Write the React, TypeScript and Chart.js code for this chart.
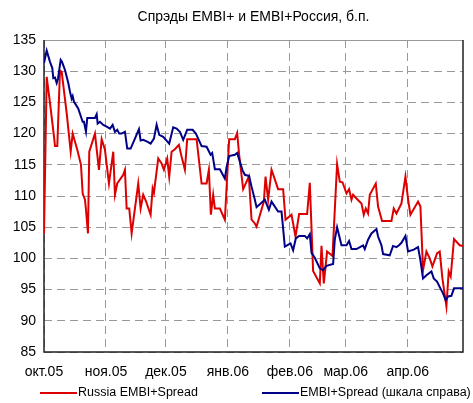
import React, { useEffect, useRef } from "react";
import { Chart, registerables } from "chart.js";

Chart.register(...registerables);

const titleText = "Спрэды EMBI+ и EMBI+Россия, б.п.";
const monthDays = [0, 31, 61, 92, 123, 151, 182];
const monthLabels = ["окт.05", "ноя.05", "дек.05", "янв.06", "фев.06", "мар.06", "апр.06"];
const lastDay = 209.65;
const seriesNames = ["Russia EMBI+Spread", "EMBI+Spread (шкала справа)"];

// [day since 1 Oct 2005, spread]
const russiaSpread: [number, number][] = [
  [0, 104], [1.35, 129.1], [3, 124.9], [5, 119.5], [5.5, 118], [6.65, 118], [8, 130.1], [8.85, 129.9],
  [11.35, 123.3], [13.35, 117.1], [14.35, 120], [16.65, 117.4], [18.5, 115], [19.35, 110.4], [20.5, 109.4],
  [21, 107.8], [22, 104], [22.65, 117.1], [25.5, 120], [27.5, 114.2], [28.85, 119.1], [30.5, 117.4],
  [32.5, 112], [34.65, 117.1], [35.5, 110.2], [36.65, 112], [39.65, 113.4], [40.5, 114.2], [41.35, 108],
  [42.65, 108], [43.85, 104], [47.15, 112], [48.35, 108], [49.65, 110.2], [51, 109.2], [53.35, 107],
  [54.35, 111.2], [55, 110.5], [57.15, 116], [58.85, 115.2], [60, 114.2], [61.65, 116], [62.65, 113.1],
  [63.85, 117.1], [65.5, 117.5], [67.5, 118.2], [68.85, 116.3], [70.5, 114.2], [71.65, 119.1], [76.35, 119.1],
  [78.85, 112], [81.35, 112], [82.5, 114.2], [83.5, 107], [84.65, 110.2], [85.5, 108], [88, 108],
  [90.5, 106.2], [92.65, 119.1], [95.5, 119.1], [96.65, 120.1], [97.65, 116.6], [99.65, 111.1], [102.5, 113.1],
  [103.85, 106.2], [105.5, 105.6], [106.35, 105.1], [110, 109.1], [110.85, 113.1], [112.15, 109.4],
  [113.85, 114.2], [117.15, 111.1], [119.65, 111.1], [120.85, 106.2], [123.85, 107], [125.85, 103.5],
  [127.65, 107.1], [131.65, 107.1], [133, 112.1], [134.65, 98], [138, 96], [138.85, 102], [140, 96],
  [141.65, 101.1], [144.35, 100.4], [146.65, 115.1], [148, 112.3], [149.35, 112.2], [151.35, 110.4],
  [152.65, 111.1], [153.85, 109.4], [154.65, 110.2], [156.35, 109.6], [158.85, 108.8], [160, 107], [161, 108],
  [162.15, 107.2], [163, 110.2], [166, 112], [167.15, 108.3], [169.15, 106], [173.85, 106], [175, 108],
  [176.35, 107.2], [178.85, 108.8], [180.85, 113.1], [182.15, 109.5], [183.35, 107], [187.15, 109.1],
  [188.35, 108.3], [189.65, 98.1], [191.35, 101.1], [193, 100], [194.35, 98.7], [196.65, 100.8], [198, 101.1],
  [199.35, 96.8], [201.35, 92.3], [202.5, 97.9], [203.5, 97.1], [205.15, 103.1], [208, 102.1], [209.65, 102],
];

const embiSpread: [number, number][] = [
  [0, 131.3], [1.35, 133.3], [3, 131.5], [4.15, 130.5], [4.65, 128.9], [5.5, 129], [6.35, 128.1], [7, 128.8],
  [8.35, 131.8], [9, 131.5], [10.5, 130.2], [12.15, 128.1], [13, 126.7], [13.85, 125.6], [14.35, 126],
  [15, 125.1], [16, 124.6], [17.15, 124], [18.5, 122.7], [19.35, 121.9], [20, 121.9], [21, 120.3],
  [21.65, 122.5], [23, 122.5], [25.5, 122.5], [26.35, 123.1], [26.85, 121.6], [28, 121.9], [29.65, 121.4],
  [31.35, 121.1], [33, 120.8], [34.35, 121.4], [35.5, 120.3], [36.65, 120.6], [37.65, 120], [38.85, 120],
  [40.5, 120.3], [41.65, 117.6], [43.35, 117.6], [45.5, 119.2], [47.5, 120.7], [48.35, 118.9], [49.65, 119],
  [51.65, 118.7], [53.35, 118.4], [55, 119.2], [56.35, 121.4], [57.65, 119.8], [59.65, 119.5], [62.65, 118.4],
  [64.65, 121], [66.35, 120.8], [68, 120.3], [69.65, 119], [71.65, 120.6], [74.35, 120.6], [76, 120],
  [78.85, 118], [81.35, 117.9], [83.35, 116.6], [84.15, 116.9], [85.5, 114.3], [88, 114.3], [90.5, 112.8],
  [91.35, 114.6], [92.65, 116.4], [95.5, 116.6], [96.65, 116.9], [99.35, 114.1], [100.5, 113.4],
  [102.65, 113.2], [103.85, 111.5], [105.5, 109.4], [106.35, 108.2], [110.5, 109.4], [112.5, 107.8],
  [113.85, 109.1], [117.15, 107.5], [118.85, 107.5], [120.5, 101.9], [123.35, 102.4], [124.65, 101.3],
  [126, 103.2], [127.65, 103.6], [130.5, 103.6], [131.65, 103.2], [133, 103.9], [133.85, 100.9],
  [135.5, 100.1], [138, 98.4], [139.65, 98.1], [141.35, 98.8], [144.65, 99.1], [145.5, 103], [146.65, 105],
  [148.85, 102.1], [151.35, 102.1], [152.65, 102.8], [153.85, 101.5], [156.35, 101.5], [159.65, 102.1],
  [160.5, 101.5], [162.15, 103], [163.85, 104], [166.35, 104.7], [167.15, 103.5], [168.85, 102.1],
  [169.65, 100.7], [173, 100.5], [174.65, 102], [176.35, 101.8], [177.65, 102.1], [178.85, 102.5],
  [180.85, 103.6], [182.15, 101.1], [185, 101.4], [187.15, 101.8], [188.35, 99.7], [189.65, 96.8],
  [191.35, 97.3], [193.85, 97.9], [195, 96.8], [196.65, 96.3], [198.35, 95.2], [199.65, 94.4], [201, 93.3],
  [202.15, 93.9], [203.85, 94], [205.15, 95.2], [209.65, 95.2],
];

const RED = "#dd0000";
const BLUE = "#000088";
const FONT = "'Liberation Sans', Arial, sans-serif";
const DASH = [8, 5];

const framePlugin = {
  id: "framePlugin",
  beforeDatasetsDraw(chart: any) {
    const { ctx, chartArea: a } = chart;
    ctx.save();
    ctx.lineWidth = 1;
    ctx.strokeStyle = "#999999";
    ctx.beginPath();
    ctx.moveTo(a.left, a.top + 0.5);
    ctx.lineTo(a.right, a.top + 0.5);
    ctx.stroke();
    ctx.strokeStyle = "#222222";
    ctx.lineWidth = 1.5;
    ctx.beginPath();
    ctx.moveTo(a.left, a.top);
    ctx.lineTo(a.left, a.bottom);
    ctx.lineTo(a.right, a.bottom);
    ctx.lineTo(a.right, a.top);
    ctx.stroke();
    ctx.restore();
  },
  afterDraw(chart: any) {
    const { ctx, chartArea: a } = chart;
    ctx.save();
    ctx.fillStyle = "#000";
    ctx.font = `14px ${FONT}`;
    ctx.textAlign = "center";
    ctx.textBaseline = "middle";
    ctx.fillText(titleText, (a.left + a.right) / 2, 17);
    const ly = 393;
    const items = [
      { x1: 40, x2: 77, color: RED, text: seriesNames[0] },
      { x1: 262, x2: 299, color: BLUE, text: seriesNames[1] },
    ];
    ctx.font = `12.5px ${FONT}`;
    ctx.textAlign = "left";
    for (const it of items) {
      ctx.strokeStyle = it.color;
      ctx.lineWidth = 2;
      ctx.beginPath();
      ctx.moveTo(it.x1, ly);
      ctx.lineTo(it.x2, ly);
      ctx.stroke();
      ctx.fillText(it.text, it.x2 + 1, ly);
    }
    ctx.restore();
  },
};

export default function App() {
  const ref = useRef<HTMLCanvasElement>(null);
  useEffect(() => {
    document.body.style.margin = "0";
    Chart.defaults.font.family = FONT;
    const chart = new Chart(ref.current!, {
      type: "line",
      data: {
        datasets: [
          {
            label: seriesNames[0],
            data: russiaSpread.map(([x, y]) => ({ x, y })),
            borderColor: RED,
            borderWidth: 2,
            pointRadius: 0,
            tension: 0,
            order: 1,
          },
          {
            label: seriesNames[1],
            data: embiSpread.map(([x, y]) => ({ x, y })),
            borderColor: BLUE,
            borderWidth: 2,
            pointRadius: 0,
            tension: 0,
            order: 0,
          },
        ],
      },
      options: {
        animation: false,
        responsive: false,
        layout: { padding: { top: 40, right: 10, left: 0, bottom: 0 } },
        plugins: { legend: { display: false }, title: { display: false }, tooltip: { enabled: false } },
        scales: {
          x: {
            type: "linear",
            min: 0,
            max: lastDay,
            afterBuildTicks: (scale: any) => {
              scale.ticks = monthDays.map((v) => ({ value: v }));
            },
            afterFit: (scale: any) => {
              scale.height = 51;
            },
            ticks: {
              autoSkip: false,
              maxRotation: 0,
              padding: 12,
              color: "#000",
              font: { size: 14, family: FONT },
              callback: (v: any) => {
                const i = monthDays.indexOf(Number(v));
                return i >= 0 ? monthLabels[i] : "";
              },
            },
            grid: { color: "#999999", lineWidth: 1, drawTicks: false, borderDash: DASH },
            border: { display: false, dash: DASH },
          },
          y: {
            min: 85,
            max: 135,
            afterFit: (scale: any) => {
              scale.width = 44;
            },
            ticks: {
              stepSize: 5,
              padding: 8,
              color: "#000",
              font: { size: 14, family: FONT },
            },
            grid: { color: "#999999", lineWidth: 1, drawTicks: false, borderDash: DASH },
            border: { display: false, dash: DASH },
          },
        },
      },
      plugins: [framePlugin],
    } as any);
    return () => chart.destroy();
  }, []);
  return <canvas ref={ref} width={473} height={403} style={{ display: "block" }} />;
}
